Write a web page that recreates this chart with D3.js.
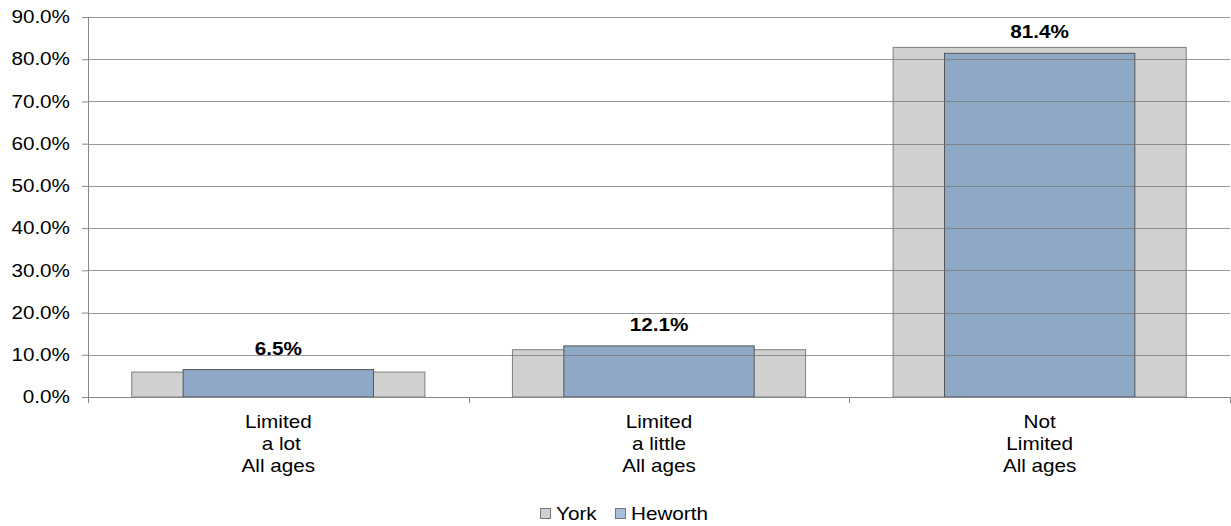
<!DOCTYPE html>
<html>
<head>
<meta charset="utf-8">
<script src="https://cdn.jsdelivr.net/npm/d3@7"></script>
<style>
  body { margin: 0; background: #fff; }
  text { font-family: "Liberation Sans", Arial, sans-serif; fill: #000; }
</style>
</head>
<body>
<div id="chart"></div>
<script>
var categories = [["Limited", " a lot", "All ages"], ["Limited", "a little", "All ages"], ["Not", "Limited", "All ages"]];
var york = [5.9, 11.2, 82.8];
var heworth = [6.5, 12.1, 81.4];
var yTicks = [0, 10, 20, 30, 40, 50, 60, 70, 80, 90];
var seriesNames = ["York", "Heworth"];

var fullwidth = 1231, fullheight = 526;
var margin = { top: 17, right: 1, bottom: 129, left: 88 };
var width = fullwidth - margin.left - margin.right;
var height = fullheight - margin.top - margin.bottom;
var sx = 1.15; // text in the original is a little wider than Arial

var svg = d3.select("#chart").append("svg")
  .attr("width", fullwidth).attr("height", fullheight)
  .append("g")
  .attr("transform", "translate(" + margin.left + "," + margin.top + ")");

var x = d3.scaleBand().domain(d3.range(categories.length)).range([0, width]);
var y = d3.scaleLinear().domain([0, 90]).range([height, 0]);

var yw = x.bandwidth() * 0.77, hw = x.bandwidth() * 0.5;

// bars
svg.selectAll("rect.york").data(york).enter().append("rect")
  .attr("x", function(d, i) { return x(i) + (x.bandwidth() - yw) / 2; })
  .attr("y", function(d) { return y(d); })
  .attr("width", yw)
  .attr("height", function(d) { return height - y(d); })
  .attr("fill", "#d0d0d0").attr("stroke", "#7f7f7f").attr("stroke-width", 1);

svg.selectAll("rect.hew").data(heworth).enter().append("rect")
  .attr("x", function(d, i) { return x(i) + (x.bandwidth() - hw) / 2; })
  .attr("y", function(d) { return y(d); })
  .attr("width", hw)
  .attr("height", function(d) { return height - y(d); })
  .attr("fill", "#8fa8c6").attr("stroke", "#555").attr("stroke-width", 1);

// gridlines drawn over bars, like the original
svg.selectAll("line.grid").data(yTicks.slice(1)).enter().append("line")
  .attr("x1", 0).attr("x2", width)
  .attr("y1", function(d) { return Math.round(y(d)) + 0.5; })
  .attr("y2", function(d) { return Math.round(y(d)) + 0.5; })
  .attr("stroke", "#777").attr("stroke-opacity", 0.75).attr("stroke-width", 1);

// y axis
var yAxis = d3.axisLeft(y).tickValues(yTicks).tickSize(6).tickPadding(12)
  .tickFormat(function(d) { return d.toFixed(1) + "%"; });
var gy = svg.append("g").call(yAxis);
gy.select(".domain").attr("stroke", "#888").attr("d", "M0.5,0V" + (height + 6));
gy.selectAll(".tick line").attr("stroke", "#888");
gy.selectAll("text")
  .style("font-size", "18px").attr("fill", "#000")
  .attr("x", -18 / sx)
  .attr("transform", "scale(" + sx + ",1)");

// x axis baseline + category ticks
svg.append("line").attr("x1", 0).attr("x2", width)
  .attr("y1", height + 0.5).attr("y2", height + 0.5).attr("stroke", "#888");
svg.selectAll("line.xtick").data(d3.range(1, categories.length + 1)).enter().append("line")
  .attr("x1", function(d) { return Math.round(d * x.step()) + 0.5; })
  .attr("x2", function(d) { return Math.round(d * x.step()) + 0.5; })
  .attr("y1", height).attr("y2", height + 6).attr("stroke", "#888");

// category labels
var cat = svg.selectAll("g.cat").data(categories).enter().append("g")
  .attr("transform", function(d, i) {
    return "translate(" + (x(i) + x.bandwidth() / 2) + "," + (height + 31) + ") scale(" + sx + ",1)";
  })
  .append("text")
  .attr("text-anchor", "middle")
  .attr("xml:space", "preserve")
  .style("font-size", "18px");
cat.selectAll("tspan").data(function(d) { return d; }).enter().append("tspan")
  .attr("x", 0)
  .attr("dy", function(d, i) { return i === 0 ? 0 : 22; })
  .text(function(d) { return d; });

// value labels
svg.selectAll("g.val").data(heworth).enter().append("g")
  .attr("transform", function(d, i) {
    return "translate(" + (x(i) + x.bandwidth() / 2) + "," + (y(d) - 15) + ") scale(" + sx + ",1)";
  })
  .append("text")
  .attr("text-anchor", "middle")
  .style("font-size", "18px").style("font-weight", "bold")
  .text(function(d) { return d.toFixed(1) + "%"; });

// legend
var legendColors = ["#d0d0d0", "#a9bfde"];
var legendX = [452, 527];
var lg = svg.selectAll("g.leg").data(seriesNames).enter().append("g")
  .attr("transform", function(d, i) { return "translate(" + legendX[i] + "," + (height + 123) + ")"; });
lg.append("rect").attr("x", 0.5).attr("y", -11.5).attr("width", 10).attr("height", 10)
  .attr("fill", function(d, i) { return legendColors[i]; }).attr("stroke", "#777");
lg.append("text").attr("transform", "translate(16,0) scale(" + sx + ",1)")
  .style("font-size", "18px")
  .text(function(d) { return d; });
</script>
</body>
</html>
